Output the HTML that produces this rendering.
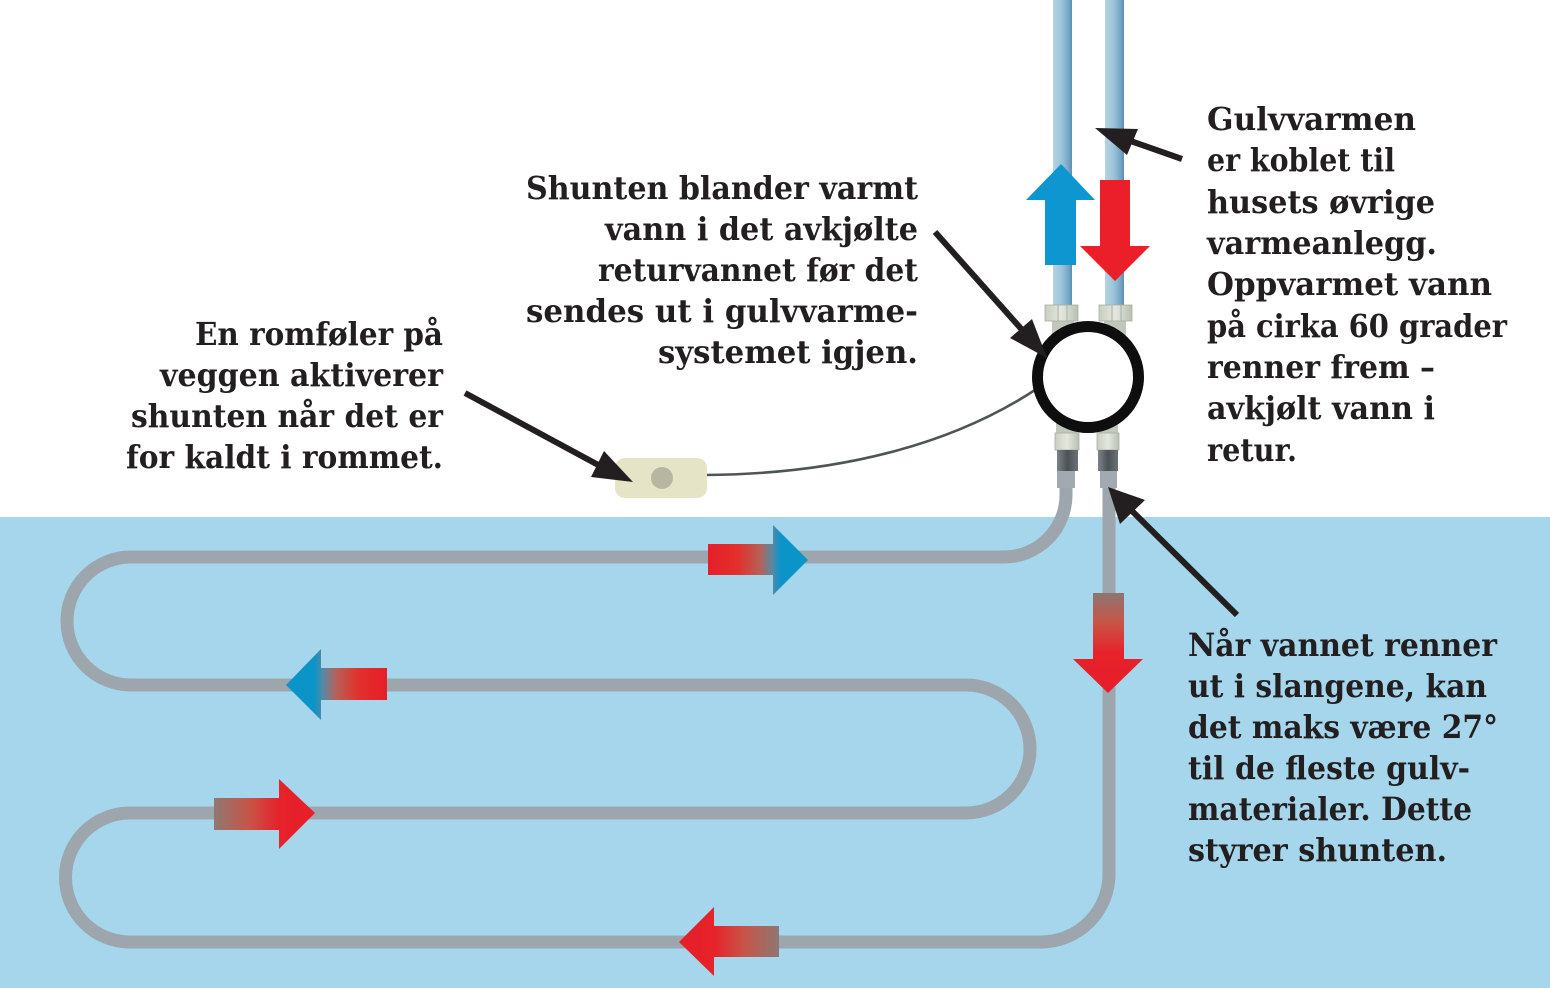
<!DOCTYPE html>
<html>
<head>
<meta charset="utf-8">
<style>
  html, body { margin: 0; padding: 0; background: #ffffff; }
  svg { display: block; }
  text { font-family: "DejaVu Serif", "Liberation Serif", serif; font-weight: bold; font-size: 31.5px; fill: #231f20; }
</style>
</head>
<body>
<svg width="1550" height="988" viewBox="0 0 1550 988" xmlns="http://www.w3.org/2000/svg">
  <defs>
    <linearGradient id="pipeG" x1="0" y1="0" x2="1" y2="0">
      <stop offset="0" stop-color="#b5d3e4"/>
      <stop offset="0.45" stop-color="#9cc4da"/>
      <stop offset="0.8" stop-color="#78a8c6"/>
      <stop offset="1" stop-color="#5c8eb0"/>
    </linearGradient>
    <linearGradient id="coupG" x1="0" y1="0" x2="1" y2="0">
      <stop offset="0" stop-color="#7b8387"/>
      <stop offset="0.5" stop-color="#4b5256"/>
      <stop offset="1" stop-color="#6b7377"/>
    </linearGradient>
    <linearGradient id="nutG" x1="0" y1="0" x2="1" y2="0">
      <stop offset="0" stop-color="#c9cec2"/>
      <stop offset="0.5" stop-color="#e4e7dd"/>
      <stop offset="1" stop-color="#b9bfb3"/>
    </linearGradient>
    <linearGradient id="a1" gradientUnits="userSpaceOnUse" x1="708" y1="0" x2="808" y2="0">
      <stop offset="0" stop-color="#e61e2a"/>
      <stop offset="0.3" stop-color="#e2302c"/>
      <stop offset="0.52" stop-color="#b86056"/>
      <stop offset="0.64" stop-color="#5a88a2"/>
      <stop offset="0.72" stop-color="#0a94c8"/>
      <stop offset="1" stop-color="#0a94c8"/>
    </linearGradient>
    <linearGradient id="a2" gradientUnits="userSpaceOnUse" x1="286" y1="0" x2="387" y2="0">
      <stop offset="0" stop-color="#0a94c8"/>
      <stop offset="0.28" stop-color="#0a94c8"/>
      <stop offset="0.37" stop-color="#5a88a2"/>
      <stop offset="0.5" stop-color="#b86056"/>
      <stop offset="0.72" stop-color="#e2302c"/>
      <stop offset="1" stop-color="#e61e2a"/>
    </linearGradient>
    <linearGradient id="a3" gradientUnits="userSpaceOnUse" x1="214" y1="0" x2="315" y2="0">
      <stop offset="0" stop-color="#8e7872"/>
      <stop offset="0.35" stop-color="#c85448"/>
      <stop offset="0.65" stop-color="#e6222a"/>
      <stop offset="1" stop-color="#e61e2a"/>
    </linearGradient>
    <linearGradient id="a4" gradientUnits="userSpaceOnUse" x1="679" y1="0" x2="779" y2="0">
      <stop offset="0" stop-color="#e61e2a"/>
      <stop offset="0.35" stop-color="#e6222a"/>
      <stop offset="0.65" stop-color="#c85448"/>
      <stop offset="1" stop-color="#8e7872"/>
    </linearGradient>
    <linearGradient id="a5" gradientUnits="userSpaceOnUse" x1="0" y1="593" x2="0" y2="693">
      <stop offset="0" stop-color="#8e7670"/>
      <stop offset="0.3" stop-color="#c85446"/>
      <stop offset="0.6" stop-color="#e6222a"/>
      <stop offset="1" stop-color="#e61e2a"/>
    </linearGradient>
  </defs>

  <!-- floor background -->
  <rect x="0" y="517" width="1550" height="471" fill="#a5d6eb"/>

  <!-- upper blue pipes -->
  <rect x="1053" y="0" width="19" height="308" fill="url(#pipeG)"/>
  <rect x="1105" y="0" width="19" height="308" fill="url(#pipeG)"/>

  <!-- connectors under circle -->
  <rect x="1052" y="318" width="22" height="18" fill="#c2c7bb"/>
  <rect x="1104" y="318" width="22" height="18" fill="#c2c7bb"/>
  <rect x="1056" y="418" width="22" height="18" fill="#c2c7bb"/>
  <rect x="1098" y="418" width="20" height="18" fill="#c2c7bb"/>

  <!-- top nuts -->
  <rect x="1045" y="305" width="33" height="16" fill="url(#nutG)" stroke="#a9aea2" stroke-width="0.8"/>
  <line x1="1058" y1="305" x2="1058" y2="321" stroke="#aab0a4" stroke-width="1"/>
  <line x1="1067" y1="305" x2="1067" y2="321" stroke="#aab0a4" stroke-width="1"/>
  <rect x="1099" y="305" width="33" height="16" fill="url(#nutG)" stroke="#a9aea2" stroke-width="0.8"/>
  <line x1="1112" y1="305" x2="1112" y2="321" stroke="#aab0a4" stroke-width="1"/>
  <line x1="1121" y1="305" x2="1121" y2="321" stroke="#aab0a4" stroke-width="1"/>

  <!-- floor hose -->
  <path d="M1066,468 L1066,495 A62,62 0 0 1 1004,557 L131,557 A64,64 0 0 0 131,685 L966,685 A64,64 0 0 1 966,813 L130,813 A64.5,64.5 0 0 0 130,942 L1041,942 A68,68 0 0 0 1109,874 L1109,468"
        fill="none" stroke="#9ea6ad" stroke-width="13"/>
  <rect x="1057" y="468" width="18" height="20" fill="#a2aab1"/>
  <rect x="1100" y="468" width="17" height="20" fill="#a2aab1"/>

  <!-- bottom nuts and couplings -->
  <rect x="1055" y="433" width="24" height="17" fill="url(#nutG)" stroke="#a9aea2" stroke-width="0.8"/>
  <rect x="1097" y="433" width="22" height="17" fill="url(#nutG)" stroke="#a9aea2" stroke-width="0.8"/>
  <rect x="1057" y="450" width="21" height="21" fill="url(#coupG)"/>
  <rect x="1098" y="450" width="20" height="21" fill="url(#coupG)"/>

  <!-- sensor wire -->
  <path d="M705,475 C850,474 960,440 1038,388" fill="none" stroke="#4f5456" stroke-width="2.6"/>

  <!-- shunt circle -->
  <circle cx="1088" cy="377" r="50.5" fill="#ffffff" stroke="#0e0e0e" stroke-width="11"/>

  <!-- room sensor -->
  <rect x="615" y="458" width="92" height="40" rx="10" ry="10" fill="#e6e4c6"/>
  <circle cx="662" cy="478" r="11" fill="#b7b7a1"/>

  <!-- up / down arrows on main pipes -->
  <polygon points="1061,164 1095,200 1076,200 1076,265 1045,265 1045,200 1026,200" fill="#0d96d0"/>
  <polygon points="1100,180 1130,180 1130,246 1150,246 1115,281 1080,246 1100,246" fill="#ea1f2a"/>

  <!-- flow arrows on floor hose -->
  <polygon points="708,544 773,544 773,525 808,560 773,595 773,575 708,575" fill="url(#a1)"/>
  <polygon points="286,685 321,649 321,668 387,668 387,700 321,700 321,720" fill="url(#a2)"/>
  <polygon points="214,798 279,798 279,779 315,813 279,849 279,830 214,830" fill="url(#a3)"/>
  <polygon points="679,942 714,907 714,926 779,926 779,957 714,957 714,976" fill="url(#a4)"/>
  <polygon points="1093,593 1124,593 1124,659 1143,659 1108,693 1073,659 1093,659" fill="url(#a5)"/>

  <!-- black pointer arrows -->
  <g fill="#231f20" stroke="none">
    <line x1="1182" y1="159" x2="1122" y2="138" stroke="#231f20" stroke-width="6"/>
    <polygon points="1095,128 1138,129 1127,155"/>
    <line x1="935" y1="232" x2="1024" y2="332" stroke="#231f20" stroke-width="6"/>
    <polygon points="1047,358 1010,338 1032,319"/>
    <line x1="465" y1="393" x2="602" y2="467" stroke="#231f20" stroke-width="6"/>
    <polygon points="633,482 591,477 604,451"/>
    <line x1="1237" y1="615" x2="1128" y2="507" stroke="#231f20" stroke-width="6"/>
    <polygon points="1108,487 1145,500 1120,524"/>
  </g>

  <!-- left text -->
  <text x="195" y="345" textLength="248" lengthAdjust="spacingAndGlyphs">En romføler på</text>
  <text x="160" y="386" textLength="283" lengthAdjust="spacingAndGlyphs">veggen aktiverer</text>
  <text x="131" y="427" textLength="312" lengthAdjust="spacingAndGlyphs">shunten når det er</text>
  <text x="126" y="468" textLength="317" lengthAdjust="spacingAndGlyphs">for kaldt i rommet.</text>

  <!-- middle text -->
  <text x="526" y="199" textLength="392" lengthAdjust="spacingAndGlyphs">Shunten blander varmt</text>
  <text x="605" y="240" textLength="313" lengthAdjust="spacingAndGlyphs">vann i det avkjølte</text>
  <text x="598" y="281" textLength="320" lengthAdjust="spacingAndGlyphs">returvannet før det</text>
  <text x="526" y="322" textLength="392" lengthAdjust="spacingAndGlyphs">sendes ut i gulvvarme-</text>
  <text x="658" y="363" textLength="260" lengthAdjust="spacingAndGlyphs">systemet igjen.</text>

  <!-- right text -->
  <text x="1207" y="130" textLength="209" lengthAdjust="spacingAndGlyphs">Gulvvarmen</text>
  <text x="1207" y="171" textLength="188" lengthAdjust="spacingAndGlyphs">er koblet til</text>
  <text x="1207" y="213" textLength="228" lengthAdjust="spacingAndGlyphs">husets øvrige</text>
  <text x="1207" y="254" textLength="230" lengthAdjust="spacingAndGlyphs">varmeanlegg.</text>
  <text x="1207" y="295" textLength="285" lengthAdjust="spacingAndGlyphs">Oppvarmet vann</text>
  <text x="1207" y="337" textLength="300" lengthAdjust="spacingAndGlyphs">på cirka 60 grader</text>
  <text x="1207" y="378" textLength="228" lengthAdjust="spacingAndGlyphs">renner frem –</text>
  <text x="1207" y="419" textLength="228" lengthAdjust="spacingAndGlyphs">avkjølt vann i</text>
  <text x="1207" y="461" textLength="90" lengthAdjust="spacingAndGlyphs">retur.</text>

  <!-- bottom right text -->
  <text x="1188" y="656" textLength="309" lengthAdjust="spacingAndGlyphs">Når vannet renner</text>
  <text x="1188" y="697" textLength="299" lengthAdjust="spacingAndGlyphs">ut i slangene, kan</text>
  <text x="1188" y="738" textLength="310" lengthAdjust="spacingAndGlyphs">det maks være 27°</text>
  <text x="1188" y="779" textLength="282" lengthAdjust="spacingAndGlyphs">til de fleste gulv-</text>
  <text x="1188" y="820" textLength="284" lengthAdjust="spacingAndGlyphs">materialer. Dette</text>
  <text x="1188" y="861" textLength="259" lengthAdjust="spacingAndGlyphs">styrer shunten.</text>
</svg>
</body>
</html>
